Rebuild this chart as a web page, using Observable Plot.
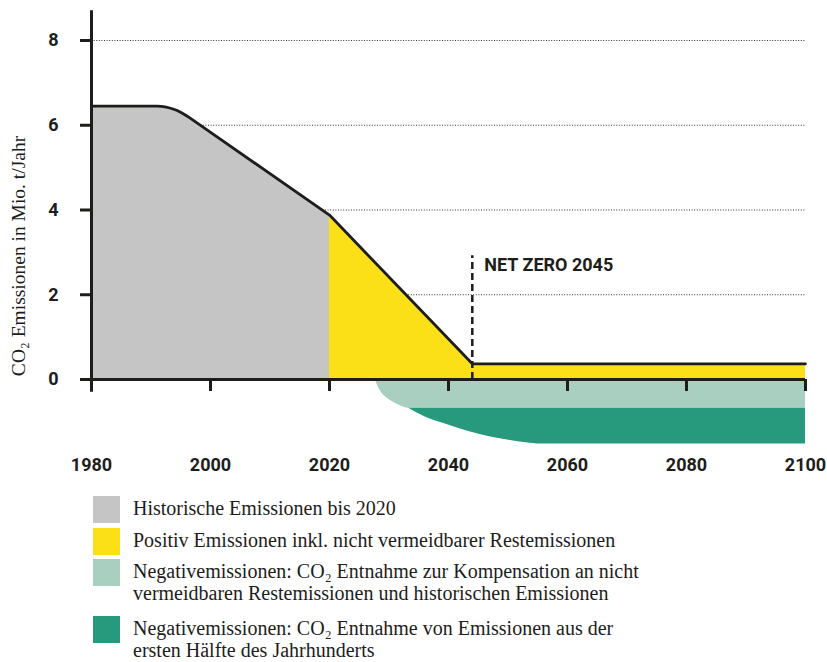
<!DOCTYPE html>
<html><head><meta charset="utf-8">
<script src="https://cdn.jsdelivr.net/npm/d3@7"></script>
<script src="https://cdn.jsdelivr.net/npm/@observablehq/plot@0.6"></script>
<style>
html,body{margin:0;padding:0;background:#fff;overflow:hidden;}
#chart svg{display:block;}
#legend{position:relative;width:827px;height:172px;font-family:"Liberation Serif",serif;font-size:20px;line-height:22px;color:#1d1d1b;}
.sw{position:absolute;left:93px;width:27px;height:27px;}
.lt{position:absolute;left:133px;white-space:nowrap;}
</style></head><body>
<div id="chart"></div>
<div id="legend"></div>
<script>
// Historical emissions (grey area), Mio. t / year
const histYears  = [1980, 1991, 1991.7, 1992.35, 1993, 1993.7, 1994.4, 1995.05, 1995.7, 1996.4, 2020];
const histValues = [6.45, 6.45, 6.446, 6.434, 6.413, 6.384, 6.347, 6.30, 6.248, 6.186, 3.88];
// Future positive emissions incl. residual (yellow area)
const futureYears  = [2020, 2044, 2100];
const futureValues = [3.88, 0.37, 0.37];
// Negative emissions: compensation (light green), lower edge
const lightYears  = [2027.7, 2028.1, 2028.7, 2029.5, 2030.5, 2031.7, 2033.3, 2100];
const lightValues = [0, -0.15, -0.3, -0.42, -0.52, -0.61, -0.68, -0.68];
// Negative emissions: first half of century (dark green), lower edge
const darkTop = -0.68;
const darkYears  = [2033.3, 2036, 2039.2, 2042, 2044.8, 2047.5, 2050.4, 2053, 2055.5, 2100];
const darkValues = [-0.68, -0.88, -1.04, -1.17, -1.28, -1.37, -1.44, -1.49, -1.52, -1.52];
// Net zero marker
const netZeroYear = 2044;
const netZeroTop = 2.92;
const netZeroLabel = "NET ZERO 2045";
// Axes
const xTicks = [1980, 2000, 2020, 2040, 2060, 2080, 2100];
const yTicks = [0, 2, 4, 6, 8];
const gridValues = [2, 4, 6, 8];
const yAxisExtent = [-0.3, 8.7];
const yLabel = "CO₂ Emissionen in Mio. t/Jahr";
// Legend
const legendLabels = [
  ["Historische Emissionen bis 2020"],
  ["Positiv Emissionen inkl. nicht vermeidbarer Restemissionen"],
  ["Negativemissionen: CO₂ Entnahme zur Kompensation an nicht", "vermeidbaren Restemissionen und historischen Emissionen"],
  ["Negativemissionen: CO₂ Entnahme von Emissionen aus der", "ersten Hälfte des Jahrhunderts"]
];
const legendColors = ["#c4c5c4", "#fbe018", "#a8cfc0", "#27997c"];

const ink = "#1d1d1b";
const rows = (xs, vs) => xs.map((year, i) => ({year, value: vs[i]}));
const histRows = rows(histYears, histValues);
const futureRows = rows(futureYears, futureValues);
const lineRows = histRows.concat(futureRows.slice(1));

const plot = Plot.plot({
  width: 827, height: 490,
  marginLeft: 91, marginRight: 22, marginTop: 10, marginBottom: 111,
  x: {domain: [1980, 2100], range: [91, 805]},
  y: {domain: [0, 8], range: [379, 40]},
  style: {fontFamily: "Roboto", background: "#fff", color: ink, overflow: "visible"},
  marks: [
    Plot.ruleY(gridValues, {stroke: "#333", strokeWidth: 1, strokeDasharray: "1,1.6"}),
    Plot.areaY(histRows, {x: "year", y: "value", fill: legendColors[0], curve: "linear"}),
    Plot.areaY(futureRows, {x: "year", y: "value", fill: legendColors[1], curve: "linear"}),
    Plot.areaY(rows(lightYears, lightValues), {x: "year", y1: 0, y2: "value", fill: legendColors[2], curve: "monotone-x"}),
    Plot.areaY(rows(darkYears, darkValues), {x: "year", y1: darkTop, y2: "value", fill: legendColors[3], curve: "monotone-x"}),
    Plot.line(lineRows, {x: "year", y: "value", stroke: ink, strokeWidth: 2.8, curve: "linear", strokeLinejoin: "round"}),
    Plot.ruleX([netZeroYear], {y1: 0, y2: netZeroTop, stroke: ink, strokeWidth: 2.5, strokeDasharray: "7,4"}),
    Plot.text([{year: netZeroYear, value: netZeroTop, label: netZeroLabel}], {x: "year", y: "value", text: "label", dx: 12, dy: 9, textAnchor: "start", fontSize: 18, fontWeight: 700, fill: ink}),
    Plot.ruleY([0], {stroke: ink, strokeWidth: 3}),
    Plot.ruleX([1980], {y1: yAxisExtent[0], y2: yAxisExtent[1], stroke: ink, strokeWidth: 3}),
    Plot.axisX(xTicks, {tickSize: 12, tickPadding: 67, strokeWidth: 3, stroke: ink, fill: ink, fontSize: 18, fontWeight: 700, label: null, tickFormat: d => String(d)}),
    Plot.axisY(yTicks, {tickSize: 11, tickPadding: 22, strokeWidth: 3, stroke: ink, fill: ink, fontSize: 18, fontWeight: 700, label: null, tickFormat: d => String(d)}),
    Plot.text([yLabel], {frameAnchor: "left", textAnchor: "middle", rotate: -90, dx: -73, dy: 61, fontFamily: "Liberation Serif", fontSize: 19.5, fill: ink})
  ]
});
document.getElementById("chart").appendChild(plot);

const legend = document.getElementById("legend");
let rowTop = 6;
legendLabels.forEach((lines, i) => {
  const sw = document.createElement("div");
  sw.className = "sw";
  sw.style.top = rowTop + "px";
  sw.style.background = legendColors[i];
  legend.appendChild(sw);
  const t = document.createElement("div");
  t.className = "lt";
  t.style.top = (rowTop + 1.2) + "px";
  t.innerHTML = lines.join("<br>");
  legend.appendChild(t);
  rowTop += lines.length * 22 + (lines.length > 1 ? 13 : 9.5);
});
</script>
</body></html>
